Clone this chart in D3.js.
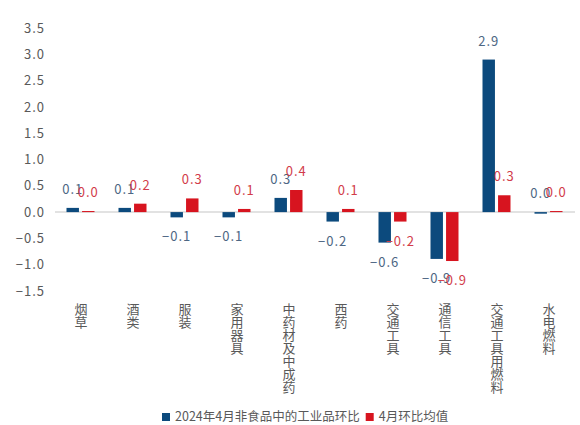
<!DOCTYPE html>
<html><head><meta charset="utf-8">
<script src="https://cdn.jsdelivr.net/npm/d3@7"></script>
<style>
html,body{margin:0;padding:0;background:#fff;}
text{font-family:"Noto Sans CJK SC","Noto Sans",sans-serif;}
</style></head>
<body><svg id="c" width="580" height="425"></svg>
<script>
const categories = ['烟草','酒类','服装','家用器具','中药材及中成药','西药','交通工具','通信工具','交通工具用燃料','水电燃料'];
const seriesNames = ['2024年4月非食品中的工业品环比','4月环比均值'];
const industrialMoM = [0.08,0.08,-0.1,-0.1,0.27,-0.18,-0.58,-0.89,2.9,-0.03];
const aprilAvgMoM = [0.02,0.16,0.26,0.06,0.42,0.06,-0.18,-0.93,0.32,0.02];
const yTicks = [-1.5,-1.0,-0.5,0.0,0.5,1.0,1.5,2.0,2.5,3.0,3.5];

const colors = ['#0c4a7d','#d7141f'];
const labelColors = ['#4d6784','#d23c4a'];
const svg = d3.select('#c');

const x = d3.scaleBand().domain(categories).range([55,575]);
const inner = d3.scaleBand().domain([0,1]).range([11.5,39.5]).paddingInner(0.2);
const y = d3.scaleLinear().domain([-1.5,3.5]).range([291,28]);

const yAxis = d3.axisLeft(y).tickValues(yTicks).tickFormat(d3.format('.1f')).tickSize(0).tickPadding(0);
const ya = svg.append('g').attr('transform','translate(45,0)').call(yAxis);
ya.select('.domain').remove();
ya.selectAll('text').attr('fill','#595959').style('font-size','13px').style('letter-spacing','1px')
  .style('font-family','"Noto Sans CJK SC",sans-serif');

svg.append('line').attr('x1',55).attr('x2',575).attr('y1',y(0)).attr('y2',y(0))
  .attr('stroke','#d9d9d9').attr('stroke-width',1.5);

const series = [industrialMoM, aprilAvgMoM];
const fmt = v => Math.abs(v) < 0.05 ? '0.0' : d3.format('.1f')(v);

series.forEach((vals, si) => {
  svg.append('g').selectAll('rect').data(vals).join('rect')
    .attr('x',(d,i)=>x(categories[i])+inner(si))
    .attr('width',inner.bandwidth())
    .attr('y',d=>Math.min(y(d),y(0)))
    .attr('height',d=>Math.abs(y(d)-y(0)))
    .attr('fill',colors[si]);
});
series.forEach((vals, si) => {
  svg.append('g').selectAll('text').data(vals).join('text')
    .attr('x',(d,i)=>x(categories[i])+inner(si)+inner.bandwidth()/2)
    .attr('y',d=> d>-0.05 ? Math.min(y(d),y(0))-14 : y(d)+24)
    .attr('text-anchor','middle')
    .attr('fill',labelColors[si])
    .style('font-size','13px').style('letter-spacing','1px')
    .text(d=>fmt(d));
});

svg.append('g').selectAll('text').data(categories).join('text')
  .attr('x',d=>x(d)+x.bandwidth()/2).attr('y',303)
  .style('writing-mode','vertical-rl').attr('text-anchor','start')
  .attr('fill','#595959').style('font-size','13px')
  .text(d=>d);

const lg = svg.append('g');
let lx = 162;
seriesNames.forEach((n,si) => {
  lg.append('rect').attr('x',lx).attr('y',413).attr('width',8).attr('height',8).attr('fill',colors[si]);
  const t = lg.append('text').attr('x',lx+13).attr('y',421).attr('fill','#595959').style('font-size','12.5px').text(n);
  lx += 13 + t.node().getComputedTextLength() + 6;
});
</script></body></html>
